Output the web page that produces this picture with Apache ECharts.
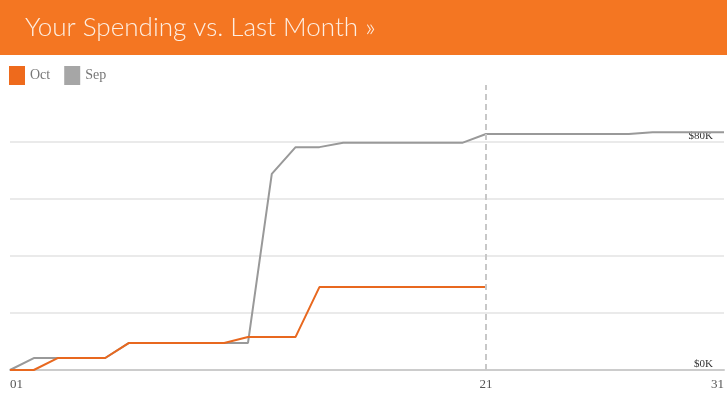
<!DOCTYPE html>
<html>
<head>
<meta charset="utf-8">
<script src="https://cdn.jsdelivr.net/npm/echarts@6/dist/echarts.min.js"></script>
<style>
  html, body { margin: 0; padding: 0; background: #fff; }
  #chart { width: 727px; height: 411px; }
</style>
</head>
<body>
<div id="chart"></div>
<script>
// days of the month
let days = ['01', '02', '03', '04', '05', '06', '07', '08', '09', '10',
    '11', '12', '13', '14', '15', '16', '17', '18', '19', '20',
    '21', '22', '23', '24', '25', '26', '27', '28', '29', '30', '31'];

// cumulative spending, dollars
let octValues = [0, 0, 4200, 4200, 4200, 9500, 9500, 9500, 9500, 9500,
    11600, 11600, 11600, 29100, 29100, 29100, 29100, 29100, 29100, 29100,
    29100, null, null, null, null, null, null, null, null, null, null];
let sepValues = [0, 4200, 4200, 4200, 4200, 9500, 9500, 9500, 9500, 9500,
    9500, 68800, 78200, 78200, 79700, 79700, 79700, 79700, 79700, 79700,
    82800, 82800, 82800, 82800, 82800, 82800, 82800, 83400, 83400, 83400, 83400];

let shownTicks = ['01', '21', '31'];
let todayLabel = '21';

let option = {
    animation: false,
    graphic: [{
        type: 'rect',
        left: 0,
        top: 0,
        shape: { width: 727, height: 55 },
        style: { fill: '#f47622' },
        z: 0
    }],
    title: {
        text: 'Your Spending vs. Last Month »',
        left: 20,
        top: 10,
        textStyle: {
            color: '#fdeee2',
            fontFamily: 'Lato',
            fontWeight: 300,
            fontSize: 26
        }
    },
    legend: {
        left: 4,
        top: 61,
        icon: 'rect',
        itemWidth: 16,
        itemHeight: 19,
        itemGap: 14,
        textStyle: {
            fontFamily: 'Liberation Serif',
            fontSize: 14,
            color: '#777'
        },
        data: ['Oct', 'Sep']
    },
    grid: {
        left: 10,
        right: 0,
        top: 85,
        bottom: 41
    },
    xAxis: {
        type: 'category',
        data: days,
        boundaryGap: false,
        axisLine: { lineStyle: { color: '#ccc', width: 2 } },
        axisTick: { show: false },
        axisLabel: {
            interval: function (index, value) {
                return shownTicks.indexOf(value) >= 0;
            },
            alignMinLabel: 'left',
            alignMaxLabel: 'right',
            margin: 8,
            fontFamily: 'Liberation Serif',
            fontSize: 13,
            color: '#555'
        }
    },
    yAxis: {
        type: 'value',
        position: 'right',
        min: 0,
        max: 100000,
        interval: 20000,
        axisLine: { show: false },
        axisTick: { show: false },
        splitLine: {
            lineStyle: {
                color: ['#eaeaea', '#eaeaea', '#eaeaea', '#eaeaea', '#eaeaea', 'rgba(0,0,0,0)'],
                width: 2
            }
        },
        axisLabel: {
            inside: true,
            margin: 11,
            verticalAlign: 'bottom',
            fontFamily: 'Liberation Serif',
            fontSize: 11,
            color: '#333',
            formatter: function (v) {
                if (v === 0 || v === 80000) {
                    return '$' + (v / 1000) + 'K';
                }
                return '';
            }
        }
    },
    series: [{
        name: 'Oct',
        type: 'line',
        data: octValues,
        symbol: 'none',
        color: '#ee6a1c',
        lineStyle: { width: 2, color: '#e8681f' },
        z: 3,
        markLine: {
            silent: true,
            symbol: 'none',
            label: { show: false },
            lineStyle: { color: '#c8c8c8', type: [6, 4], width: 2 },
            data: [{ xAxis: todayLabel }]
        }
    }, {
        name: 'Sep',
        type: 'line',
        data: sepValues,
        symbol: 'none',
        color: '#a6a6a6',
        lineStyle: { width: 2, color: '#999' },
        z: 2
    }]
};

let myChart = echarts.init(document.getElementById('chart'));
myChart.setOption(option);
</script>
</body>
</html>
